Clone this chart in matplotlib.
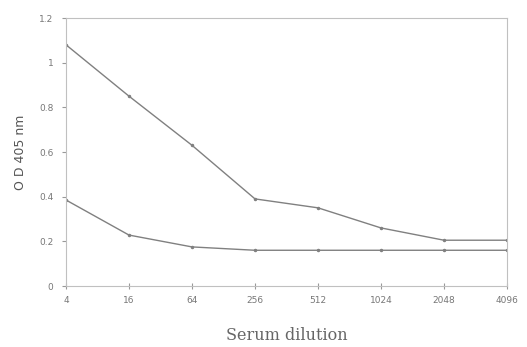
import matplotlib
matplotlib.use("Agg")
import matplotlib.pyplot as plt

dilutions = ["4", "16", "64", "256", "512", "1024", "2048", "4096"]
upper = [1.08, 0.85, 0.63, 0.39, 0.35, 0.26, 0.205, 0.205]
lower = [0.385, 0.228, 0.175, 0.16, 0.16, 0.16, 0.16, 0.16]
yticks = [0, 0.2, 0.4, 0.6, 0.8, 1, 1.2]
ytick_labels = ["0", "0.2", "0.4", "0.6", "0.8", "1", "1.2"]

plt.rcParams['font.family'] = ['DejaVu Sans']
fig = plt.figure(figsize=(5.27, 3.47), dpi=100)
ax = fig.add_axes([66/527, 1-286/347, (507-66)/527, (286-18)/347])

x = list(range(len(dilutions)))
ax.plot(x, upper, color='#808080', lw=1.0, marker='.', ms=3)
ax.plot(x, lower, color='#808080', lw=1.0, marker='.', ms=3)

ax.set_xlim(0, len(dilutions)-1)
ax.set_ylim(0, 1.2)
ax.set_xticks(x)
ax.set_xticklabels(dilutions)
ax.set_yticks(yticks)
ax.set_yticklabels(ytick_labels)
for s in ax.spines.values():
    s.set_color('#c0c0c0')
    s.set_linewidth(0.8)
ax.tick_params(axis='x', direction='inout', length=4, color='#999999', labelsize=6.5, labelcolor='#777777', pad=5)
ax.tick_params(axis='y', direction='out', length=3, color='#999999', labelsize=6.5, labelcolor='#777777', pad=6)
ax.set_xlabel("Serum dilution", fontsize=11.5, color='#666666', labelpad=16, family='DejaVu Serif')
ax.set_ylabel("O D 405 nm", fontsize=9, color='#555555', labelpad=9)

fig.savefig("out.png", dpi=100)
